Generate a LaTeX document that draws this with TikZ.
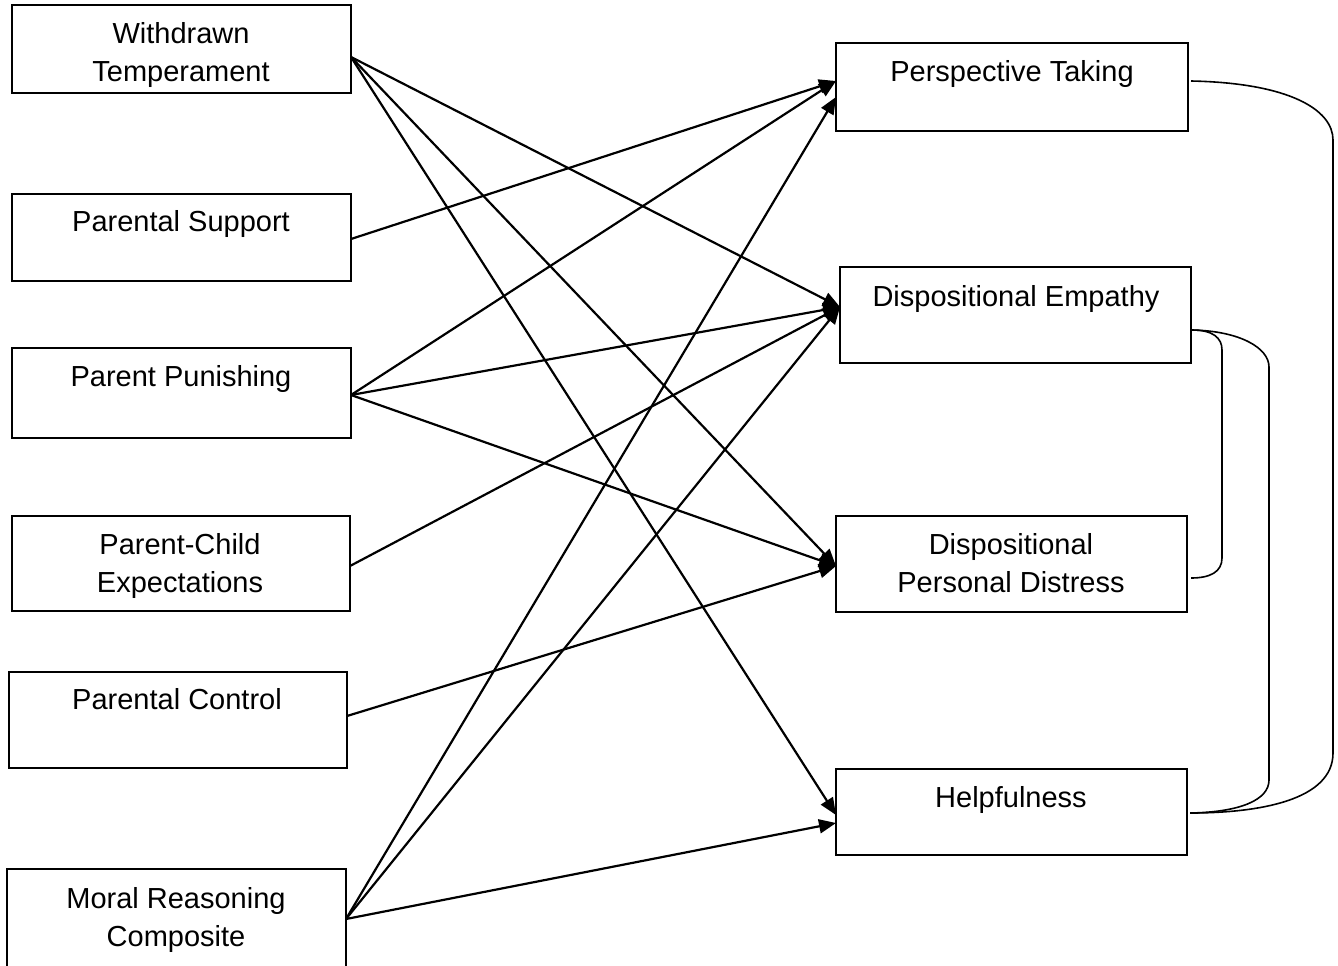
\documentclass[tikz,border=0pt]{standalone}
\usepackage{fontspec}
\setmainfont{Liberation Sans}
\usetikzlibrary{arrows.meta}
\begin{document}
\begin{tikzpicture}[x=1pt,y=-1pt,
  box/.style={draw=black,line width=1.4pt,rectangle,inner sep=0pt,outer sep=0pt},
  lbl/.style={inner sep=0pt,anchor=north,align=center,font=\fontsize{29}{38.5}\selectfont},
  arr/.style={line width=2.2pt,-{Triangle[length=17pt,width=14pt]}},
  link/.style={line width=1.6pt}]
\useasboundingbox (0,0) rectangle (1338,966);
% left boxes
\node[box,minimum width=339pt,minimum height=88pt] (wt) at (181.5,49) {};
\node[box,minimum width=339pt,minimum height=87pt] (ps) at (181.5,237.5) {};
\node[box,minimum width=339pt,minimum height=90pt] (pp) at (181.5,393) {};
\node[box,minimum width=338pt,minimum height=95pt] (pce) at (181,563.5) {};
\node[box,minimum width=338pt,minimum height=96pt] (pc) at (178,720) {};
\node[box,minimum width=339pt,minimum height=98pt] (mrc) at (176.5,918) {};
% right boxes
\node[box,minimum width=352pt,minimum height=88pt] (pt) at (1012,87) {};
\node[box,minimum width=351pt,minimum height=96pt] (de) at (1015.5,315) {};
\node[box,minimum width=351pt,minimum height=96pt] (dpd) at (1011.5,564) {};
\node[box,minimum width=351pt,minimum height=86pt] (h) at (1011.5,812) {};
% labels
\node[lbl] (twt) at (181,22) {Withdrawn\\Temperament};
\node[lbl] (tps) at (181,210) {Parental Support};
\node[lbl] (tpp) at (181,365) {Parent Punishing};
\node[lbl] (tpce) at (180,533) {Parent-Child\\Expectations};
\node[lbl] (tpc) at (177,688) {Parental Control};
\node[lbl] (tmrc) at (176,887) {Moral Reasoning\\Composite};
\node[lbl] (tpt) at (1012,60) {Perspective Taking};
\node[lbl] (tde) at (1016,285) {Dispositional Empathy};
\node[lbl] (tdpd) at (1011,533) {Dispositional\\Personal Distress};
\node[lbl] (th) at (1011,786) {Helpfulness};
% arrows
\draw[arr] ([yshift=-8pt]wt.east) -- ([yshift=8pt]de.west);
\draw[arr] ([yshift=-8pt]wt.east) -- ([yshift=-2pt]dpd.west);
\draw[arr] ([yshift=-8pt]wt.east) -- ([yshift=-3pt]h.west);
\draw[arr] ([yshift=-1.5pt]ps.east) -- ([yshift=6pt]pt.west);
\draw[arr] ([yshift=-2pt]pp.east) -- ([yshift=6pt]pt.west);
\draw[arr] ([yshift=-2pt]pp.east) -- ([yshift=8pt]de.west);
\draw[arr] ([yshift=-2pt]pp.east) -- ([yshift=-2pt]dpd.west);
\draw[arr] ([yshift=-2.5pt]pce.east) -- ([yshift=8pt]de.west);
\draw[arr] ([yshift=4pt]pc.east) -- ([yshift=-2pt]dpd.west);
\draw[arr] ([yshift=-1pt]mrc.east) -- ([yshift=-10pt]pt.west);
\draw[arr] ([yshift=-1pt]mrc.east) -- ([yshift=8pt]de.west);
\draw[arr] ([yshift=-1pt]mrc.east) -- ([yshift=-11pt]h.west);
% correlation links
\draw[link] ([xshift=3pt,yshift=6pt]pt.east) .. controls (1290,83) and (1333,110) .. (1333,140)
  -- (1333,753) .. controls (1333,800) and (1260,813) .. ([xshift=3pt,yshift=-1pt]h.east);
\draw[link] ([xshift=1pt,yshift=-15pt]de.east) .. controls (1213,330) and (1222,338) .. (1222,350)
  -- (1222,558) .. controls (1222,572) and (1210,578) .. ([xshift=4pt,yshift=-14pt]dpd.east);
\draw[link] ([xshift=1pt,yshift=-15pt]de.east) .. controls (1240,331) and (1269,348) .. (1269,367)
  -- (1269,780) .. controls (1269,800) and (1240,812) .. ([xshift=4pt,yshift=-1pt]h.east);
\end{tikzpicture}
\end{document}
